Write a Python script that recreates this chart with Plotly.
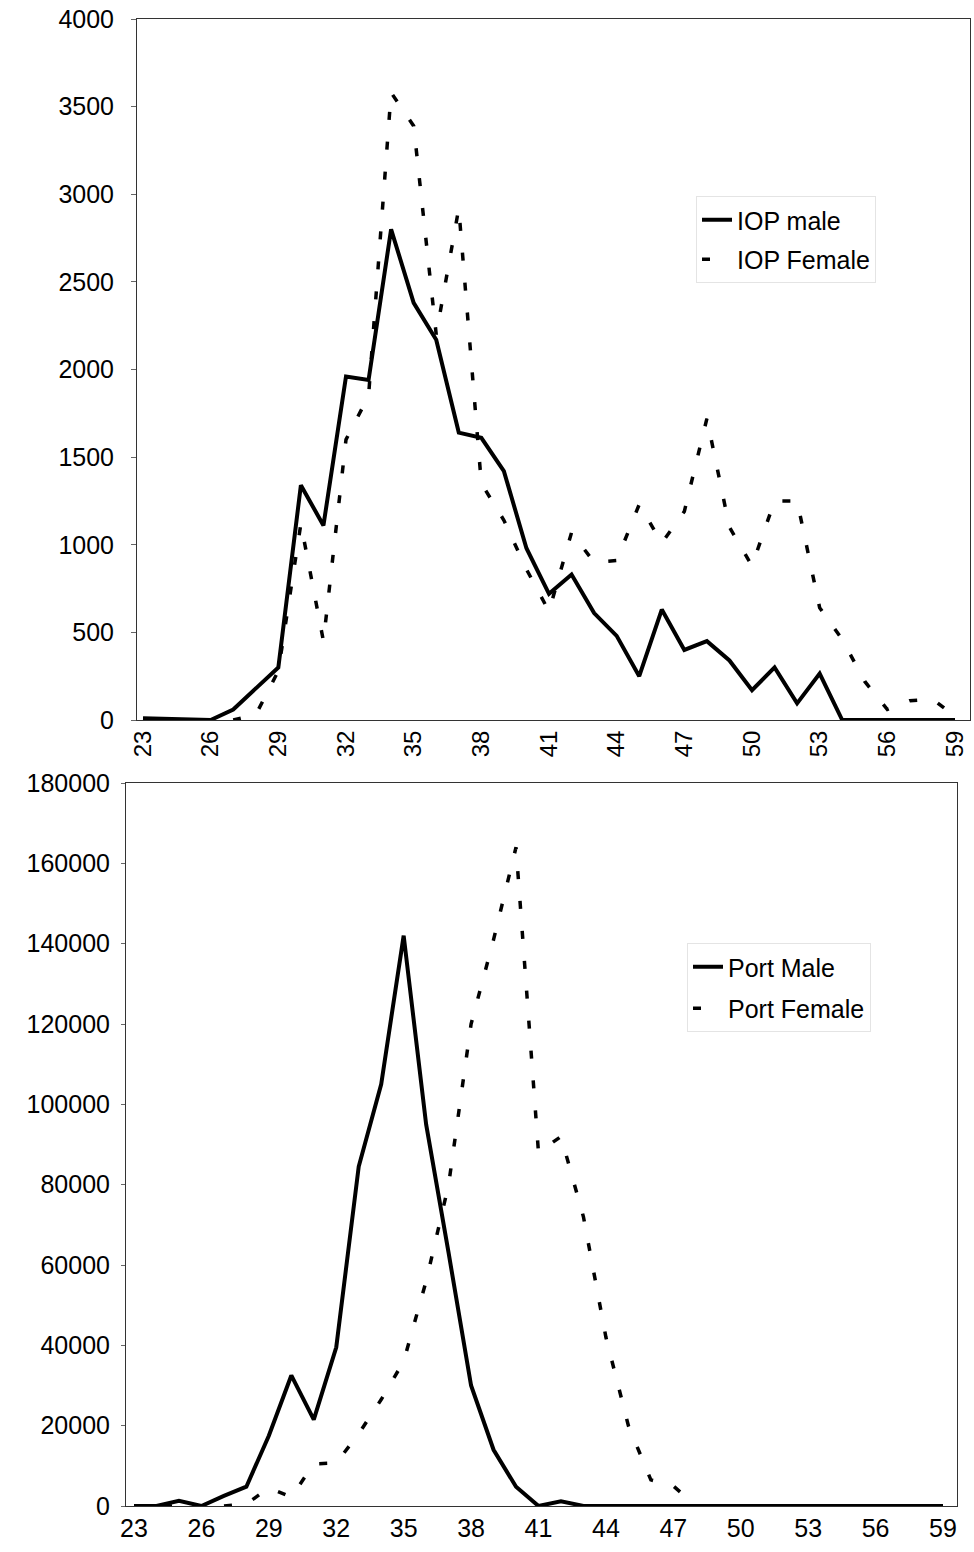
import plotly.graph_objects as go

# ---- data ----
ages = list(range(23, 60))
tick_vals = list(range(23, 60, 3))
tick_text = [str(v) for v in tick_vals]

iop_male = [10, 5, 0, 0, 60, 180, 300, 1340, 1110, 1960, 1940, 2800, 2380, 2170,
            1640, 1610, 1420, 980, 720, 830, 610, 480, 250, 630, 400, 450, 340,
            170, 300, 95, 265, 0, 0, 0, 0, 0, 0]
iop_female = [0, 0, 0, 0, 0, 30, 280, 1120, 450, 1600, 1850, 3580, 3390, 2200,
              2920, 1350, 1140, 860, 620, 1070, 900, 910, 1230, 1010, 1190, 1720,
              1100, 880, 1250, 1250, 640, 460, 220, 60, 110, 120, 20]

port_male = [0, 0, 1300, 0, 2500, 4800, 17500, 32500, 21500, 39500, 84500, 105000,
             142000, 95000, 63000, 30000, 14000, 4800, 0, 1200, 0, 0, 0, 0, 0, 0,
             0, 0, 0, 0, 0, 0, 0, 0, 0, 0, 0]
port_female = [0, 0, 0, 0, 0, 500, 4500, 2200, 10500, 10700, 18000, 26500, 36000,
               56000, 80000, 120000, 141000, 164000, 88000, 92000, 72000, 42000,
               20000, 6500, 5000, 0, 0, 0, 0, 0, 0, 0, 0, 0, 0, 0, 0]

W, H = 974, 1552
FONT = "Liberation Sans, Arial, Helvetica, sans-serif"
DASH = "8px,22px"

fig = go.Figure()
fig.add_trace(go.Scatter(x=ages, y=iop_male, name="IOP male", mode="lines",
                         line=dict(color="black", width=4), xaxis="x", yaxis="y",
                         legend="legend", legendgroup="a"))
fig.add_trace(go.Scatter(x=ages, y=iop_female, name="IOP Female", mode="lines",
                         line=dict(color="black", width=3.5, dash=DASH), xaxis="x", yaxis="y",
                         legend="legend", legendgroup="b"))
fig.add_trace(go.Scatter(x=ages, y=port_male, name="Port Male", mode="lines",
                         line=dict(color="black", width=4), xaxis="x2", yaxis="y2",
                         legend="legend2", legendgroup="c"))
fig.add_trace(go.Scatter(x=ages, y=port_female, name="Port Female", mode="lines",
                         line=dict(color="black", width=3.5, dash=DASH), xaxis="x2", yaxis="y2",
                         legend="legend2", legendgroup="d"))

axis_common = dict(showline=True, mirror=True, linecolor="#333", linewidth=1,
                   showgrid=False, zeroline=False, automargin=False)

fig.update_layout(
    template="none",
    width=W, height=H,
    margin=dict(l=0, r=0, t=0, b=0),
    paper_bgcolor="white", plot_bgcolor="white",
    font=dict(family=FONT, size=25, color="black"),
    xaxis=dict(domain=[137 / W, 970 / W], range=[22.734, 59.665], anchor="y",
               tickmode="array", tickvals=tick_vals, ticktext=tick_text,
               tickangle=-90, ticks="",
               tickfont=dict(family=FONT, size=24, color="black"), **axis_common),
    yaxis=dict(domain=[832 / H, 1533 / H], range=[0, 4000], dtick=500, anchor="x",
               ticks="outside", ticklen=5, tickcolor="#666", ticklabelstandoff=12,
               tickfont=dict(family=FONT, size=25, color="black"), **axis_common),
    xaxis2=dict(domain=[126 / W, 957 / W], range=[22.644, 59.623], anchor="y2",
                tickmode="array", tickvals=tick_vals, ticktext=tick_text,
                tickangle=0, ticks="",
                tickfont=dict(family=FONT, size=25, color="black"), **axis_common),
    yaxis2=dict(domain=[46 / H, 769 / H], range=[0, 180000], dtick=20000, anchor="x2",
                tickformat="d", ticks="outside", ticklen=4, tickcolor="#666",
                ticklabelstandoff=6,
                tickfont=dict(family=FONT, size=25, color="black"), **axis_common),
    showlegend=True,
    legend=dict(x=696 / W, y=1 - 196 / H, xanchor="left", yanchor="top",
                bgcolor="rgba(0,0,0,0)", bordercolor="#e4e4e4", borderwidth=1,
                font=dict(family=FONT, size=25, color="black"),
                traceorder="grouped", tracegroupgap=4),
    legend2=dict(x=687 / W, y=1 - 943 / H, xanchor="left", yanchor="top",
                 bgcolor="rgba(0,0,0,0)", bordercolor="#e4e4e4", borderwidth=1,
                 font=dict(family=FONT, size=25, color="black"),
                 traceorder="grouped", tracegroupgap=6),
)

fig.write_html(
    "out.html",
    config={"displayModeBar": False},
    post_script="document.body.style.margin='0';document.body.style.overflow='hidden';",
)
